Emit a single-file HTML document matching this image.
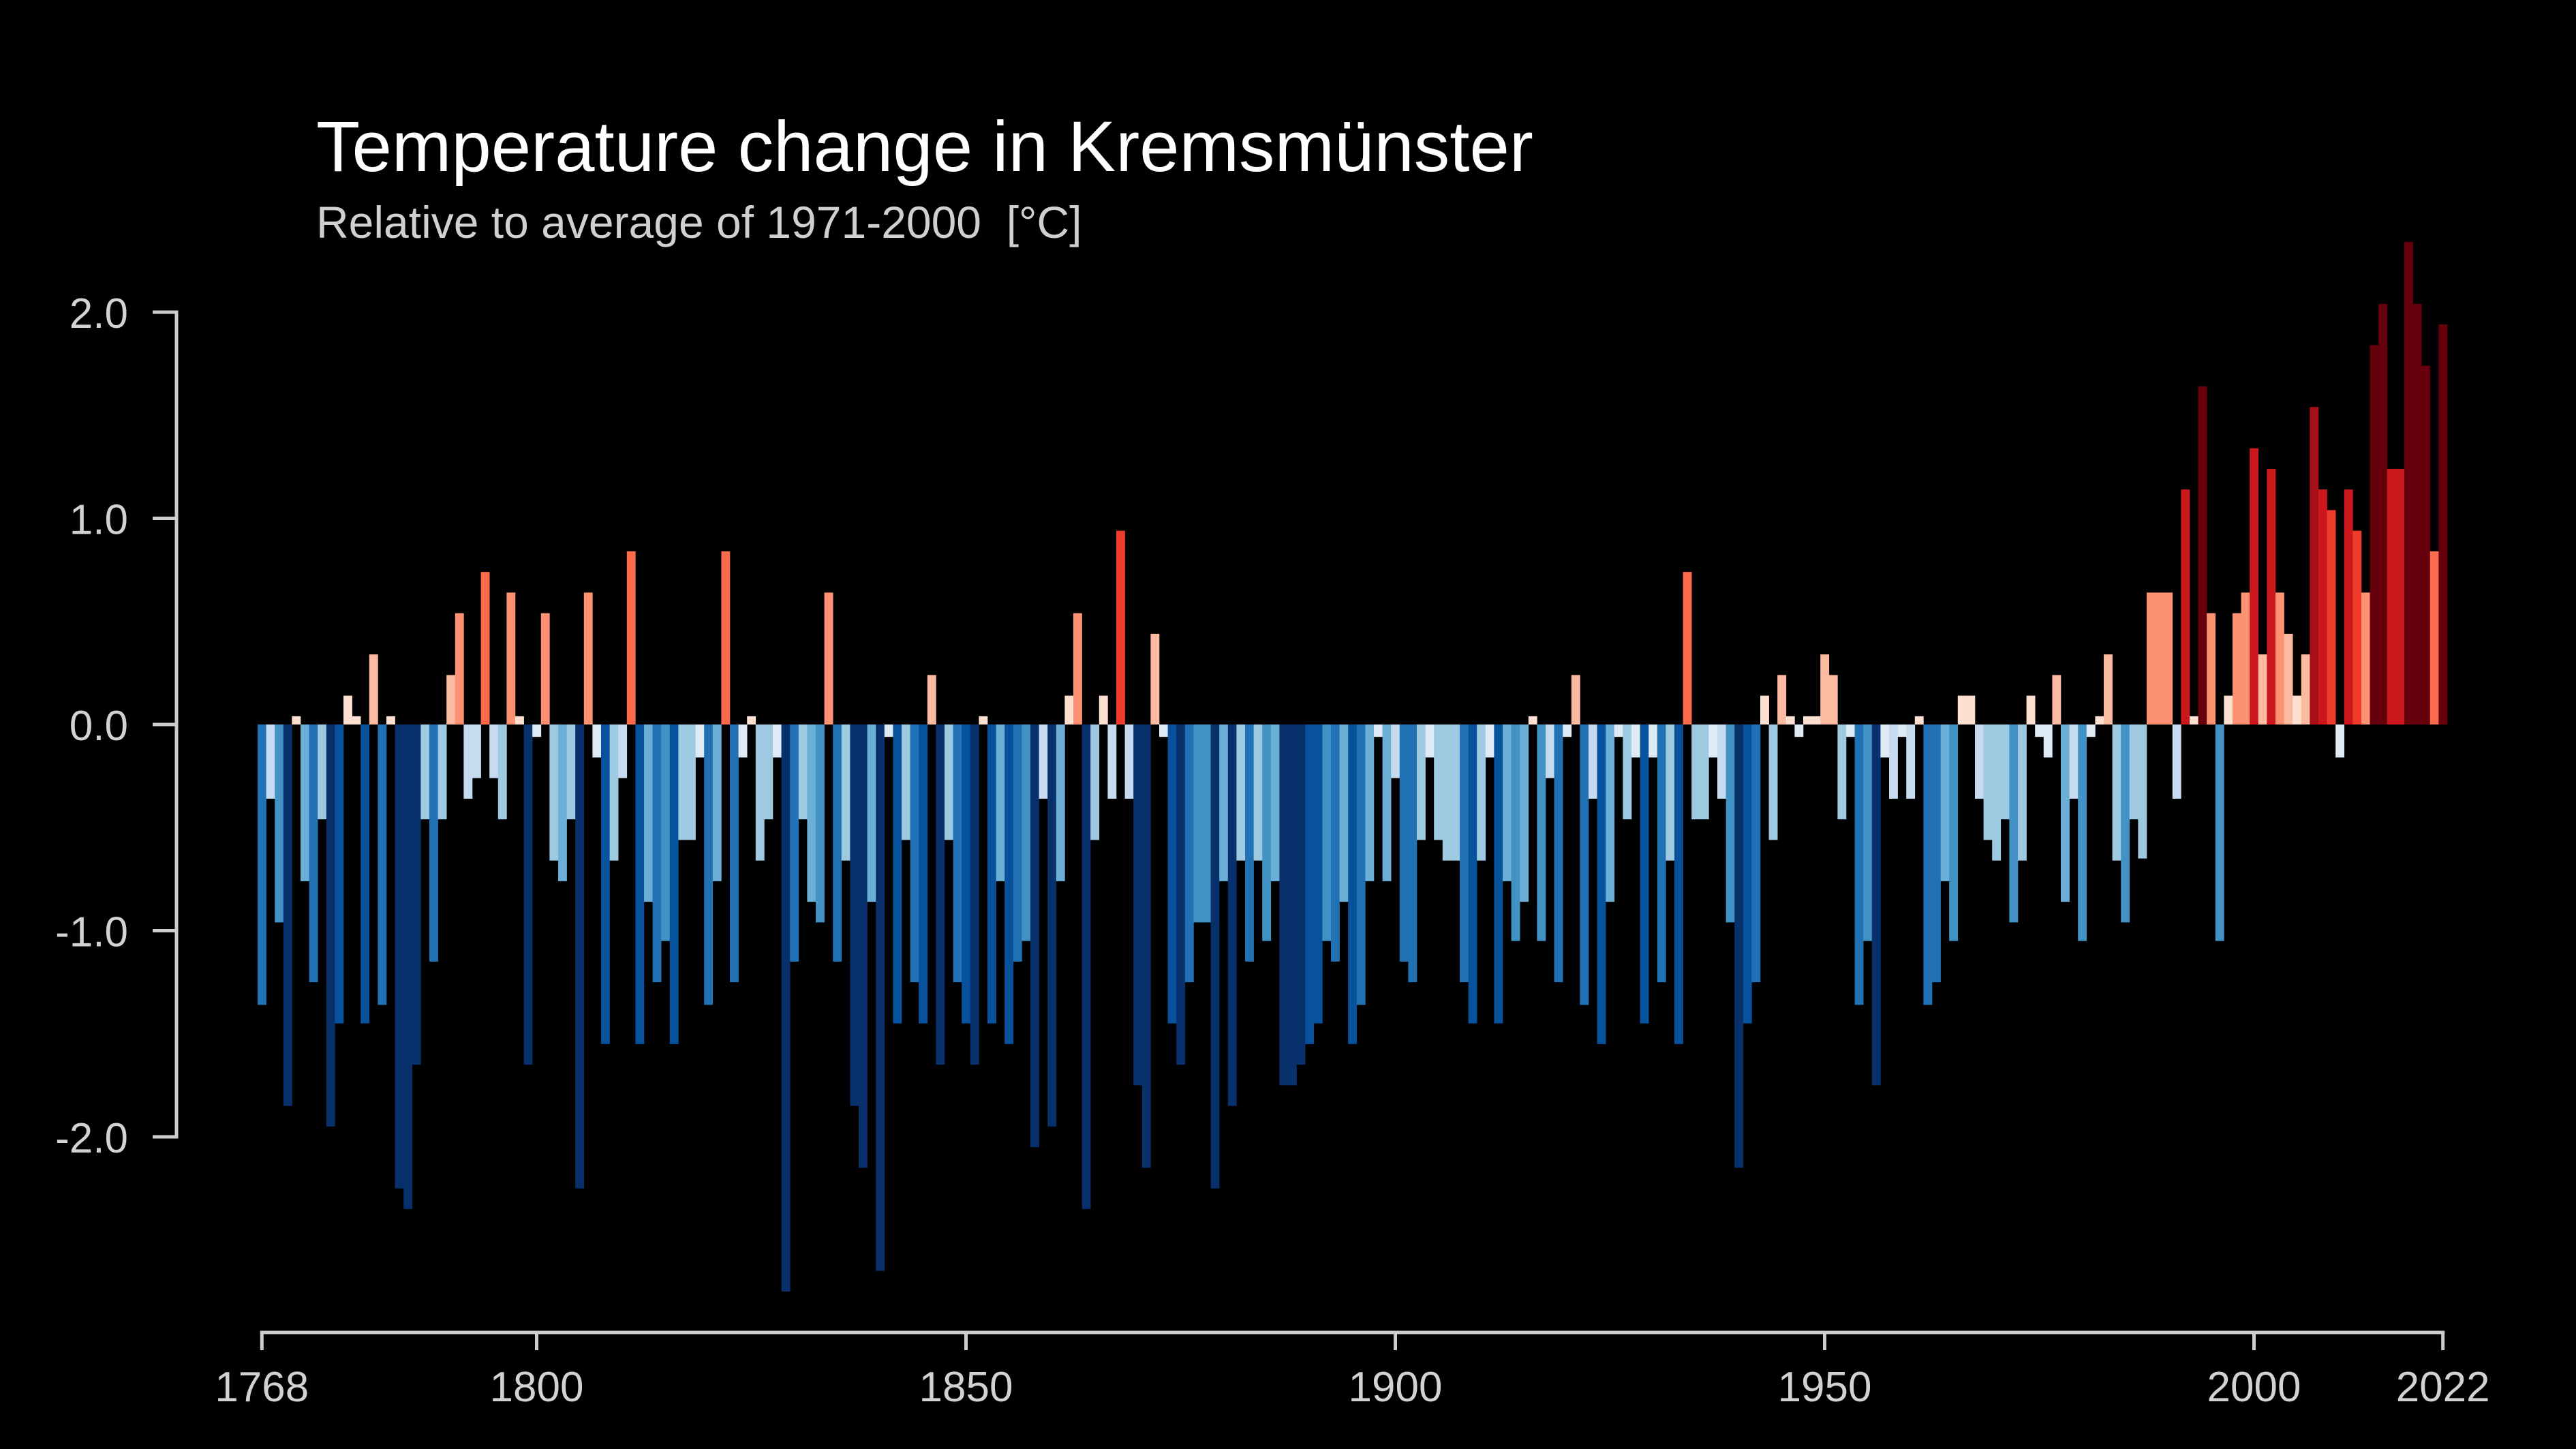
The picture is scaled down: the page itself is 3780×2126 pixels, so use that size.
<!DOCTYPE html>
<html><head><meta charset="utf-8">
<style>
html,body{margin:0;padding:0;background:#000;}
svg{display:block;}
text{font-family:"Liberation Sans",Arial,sans-serif;}
</style></head>
<body>
<svg id="chart" width="3780" height="2126" viewBox="0 0 3780 2126" xmlns="http://www.w3.org/2000/svg">
<rect x="0" y="0" width="3780" height="2126" fill="#000"/>
<text x="464" y="251" font-size="105" fill="#ffffff">Temperature change in Kremsmünster</text>
<text x="464" y="349" font-size="66" fill="#d0d0d0">Relative to average of 1971-2000 &#160;[°C]</text>
<g id="bars"></g>
<g id="yaxis"></g>
<g id="xaxis"></g>
</svg>
<script>
const startYear = 1768;
const anomalies = [
-1.36,-0.36,-0.96,-1.85,0.04,-0.76,-1.25,-0.46,-1.95,-1.45,
0.14,0.04,-1.45,0.34,-1.36,0.04,-2.25,-2.35,-1.65,-0.46,
-1.15,-0.46,0.24,0.54,-0.36,-0.26,0.74,-0.26,-0.46,0.64,
0.04,-1.65,-0.06,0.54,-0.66,-0.76,-0.46,-2.25,0.64,-0.16,
-1.55,-0.66,-0.26,0.84,-1.55,-0.86,-1.25,-1.05,-1.55,-0.56,
-0.56,-0.16,-1.36,-0.76,0.84,-1.25,-0.16,0.04,-0.66,-0.46,
-0.16,-2.75,-1.15,-0.46,-0.86,-0.96,0.64,-1.15,-0.66,-1.85,
-2.15,-0.86,-2.65,-0.06,-1.45,-0.56,-1.25,-1.45,0.24,-1.65,
-0.56,-1.25,-1.45,-1.65,0.04,-1.45,-0.76,-1.55,-1.15,-1.05,
-2.05,-0.36,-1.95,-0.76,0.14,0.54,-2.35,-0.56,0.14,-0.36,
0.94,-0.36,-1.75,-2.15,0.44,-0.06,-1.45,-1.65,-1.25,-0.96,
-0.96,-2.25,-0.76,-1.85,-0.66,-1.15,-0.66,-1.05,-0.76,-1.75,
-1.75,-1.65,-1.55,-1.45,-1.05,-1.15,-0.86,-1.55,-1.36,-0.76,
-0.06,-0.76,-0.26,-1.15,-1.25,-0.56,-0.16,-0.56,-0.66,-0.66,
-1.25,-1.45,-0.66,-0.16,-1.45,-0.76,-1.05,-0.86,0.04,-1.05,
-0.26,-1.25,-0.06,0.24,-1.36,-0.36,-1.55,-0.86,-0.06,-0.46,
-0.16,-1.45,-0.16,-1.25,-0.66,-1.55,0.74,-0.46,-0.46,-0.16,
-0.36,-0.96,-2.15,-1.45,-1.25,0.14,-0.56,0.24,0.04,-0.06,
0.04,0.04,0.34,0.24,-0.46,-0.06,-1.36,-1.05,-1.75,-0.16,
-0.36,-0.06,-0.36,0.04,-1.36,-1.25,-0.76,-1.05,0.14,0.14,
-0.36,-0.56,-0.66,-0.46,-0.96,-0.66,0.14,-0.06,-0.16,0.24,
-0.86,-0.36,-1.05,-0.06,0.04,0.34,-0.66,-0.96,-0.46,-0.65,
0.64,0.64,0.64,-0.36,1.14,0.04,1.64,0.54,-1.05,0.14,
0.54,0.64,1.34,0.34,1.24,0.64,0.44,0.14,0.34,1.54,
1.14,1.04,-0.16,1.14,0.94,0.64,1.84,2.04,1.24,1.24,
2.34,2.04,1.74,0.84,1.94
];
const yTicks = [2.0, 1.0, 0.0, -1.0, -2.0];
const yTickLabels = ["2.0","1.0","0.0","-1.0","-2.0"];
const xTicks = [1768, 1800, 1850, 1900, 1950, 2000, 2022];

const NS = "http://www.w3.org/2000/svg";
const X0 = 378, BW = 12.6, Y0 = 1063, PX_PER_DEG = 302.5;
function xScale(year){ return X0 + (year - startYear) * BW; }
function yScale(v){ return Y0 - v * PX_PER_DEG; }
function colorFor(v){
  if (v <= -1.6) return "#08306b";
  if (v <= -1.4) return "#08519c";
  if (v <= -1.1) return "#2171b5";
  if (v <= -0.9) return "#4292c6";
  if (v <= -0.7) return "#6baed6";
  if (v <= -0.4) return "#9ecae1";
  if (v <= -0.2) return "#c6dbef";
  if (v < 0) return "#deebf7";
  if (v < 0.2) return "#fee0d2";
  if (v < 0.5) return "#fcbba1";
  if (v < 0.7) return "#fc9272";
  if (v < 0.9) return "#fb6a4a";
  if (v < 1.1) return "#ef3b2c";
  if (v < 1.45) return "#cb181d";
  if (v < 1.6) return "#a50f15";
  return "#67000d";
}
const bars = document.getElementById("bars");
anomalies.forEach((v, i) => {
  const year = startYear + i;
  const r = document.createElementNS(NS, "rect");
  const y1 = yScale(Math.max(v, 0)), y2 = yScale(Math.min(v, 0));
  r.setAttribute("x", xScale(year));
  r.setAttribute("y", y1);
  r.setAttribute("width", BW + 0.3);
  r.setAttribute("height", Math.max(y2 - y1, 0.5));
  r.setAttribute("fill", colorFor(v));
  
  
  bars.appendChild(r);
});
const AX = "#cccccc";
const yaxis = document.getElementById("yaxis");
const yl = document.createElementNS(NS, "line");
yl.setAttribute("x1", 259); yl.setAttribute("x2", 259);
yl.setAttribute("y1", yScale(yTicks[0]) - 2.5); yl.setAttribute("y2", yScale(yTicks[yTicks.length-1]) + 2.5);
yl.setAttribute("stroke", AX); yl.setAttribute("stroke-width", 5);


yaxis.appendChild(yl);
yTicks.forEach((t, i) => {
  const tk = document.createElementNS(NS, "line");
  tk.setAttribute("x1", 224); tk.setAttribute("x2", 261);
  tk.setAttribute("y1", yScale(t)); tk.setAttribute("y2", yScale(t));
  tk.setAttribute("stroke", AX); tk.setAttribute("stroke-width", 5);
  
  
  yaxis.appendChild(tk);
  const tx = document.createElementNS(NS, "text");
  tx.setAttribute("x", 188); tx.setAttribute("y", yScale(t) + 23);
  tx.setAttribute("text-anchor", "end"); tx.setAttribute("font-size", 62);
  tx.setAttribute("fill", "#d2d2d2");
  tx.textContent = yTickLabels[i];
  
  
  yaxis.appendChild(tx);
});
const xaxis = document.getElementById("xaxis");
const xc = v => xScale(v) + BW / 2;
const xl = document.createElementNS(NS, "line");
xl.setAttribute("x1", xc(xTicks[0]) - 2.5); xl.setAttribute("x2", xc(xTicks[xTicks.length-1]) + 2.5);
xl.setAttribute("y1", 1955); xl.setAttribute("y2", 1955);
xl.setAttribute("stroke", AX); xl.setAttribute("stroke-width", 5);


xaxis.appendChild(xl);
xTicks.forEach(t => {
  const tk = document.createElementNS(NS, "line");
  tk.setAttribute("x1", xc(t)); tk.setAttribute("x2", xc(t));
  tk.setAttribute("y1", 1953); tk.setAttribute("y2", 1981);
  tk.setAttribute("stroke", AX); tk.setAttribute("stroke-width", 5);
  
  
  xaxis.appendChild(tk);
  const tx = document.createElementNS(NS, "text");
  tx.setAttribute("x", xc(t)); tx.setAttribute("y", 2056);
  tx.setAttribute("text-anchor", "middle"); tx.setAttribute("font-size", 62);
  tx.setAttribute("fill", "#d2d2d2");
  tx.textContent = String(t);
  
  
  xaxis.appendChild(tx);
});
</script>
</body></html>
